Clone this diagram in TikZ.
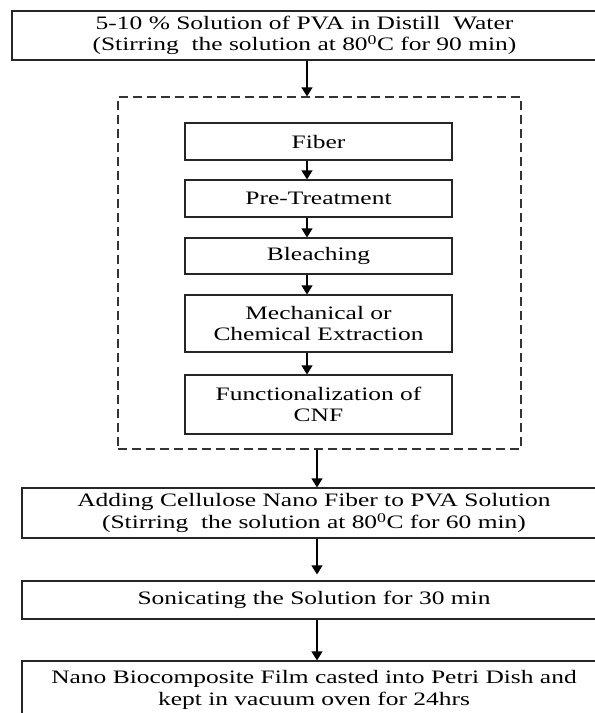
\documentclass[tikz,border=0pt]{standalone}
\usepackage{fontspec}
\setmainfont[FakeStretch=1.34]{Liberation Serif}
\usetikzlibrary{arrows.meta}
\begin{document}
\begin{tikzpicture}[x=1pt,y=-1pt,
  box/.style={draw=black!85,line width=1.2pt,align=center,inner sep=0pt,
    font=\fontsize{19}{21.5}\selectfont,text=black},
  inbox/.style={box,minimum width=267pt},
  wide/.style={box,minimum width=584pt},
  arr/.style={draw=black,line width=1.2pt,-{Triangle[width=11pt,length=9pt]}},
  dbox/.style={draw=black!80,line width=1.2pt,dash pattern=on 9pt off 5pt}]
\useasboundingbox (0,0) rectangle (595,713);
\fill[white] (0,0) rectangle (595,713);
\coordinate (ax) at (307,0);
\coordinate (bx) at (317,0);
% top box
\node[wide,minimum width=585pt,minimum height=49pt] (pva) at (304.5,35.5)
  {5-10 \% Solution of PVA in Distill\ \ Water\\(Stirring\ \ the solution at 80\textsuperscript{0}C for 90 min)};
% dashed group
\node[dbox,minimum width=403pt,minimum height=352pt] (grp) at (319.5,273) {};
% inner boxes
\node[inbox,minimum height=37pt] (fiber) at (318.5,141.5) {Fiber};
\node[inbox,minimum height=37pt] (pre) at (318.5,198.5) {Pre-Treatment};
\node[inbox,minimum height=36pt] (bleach) at (318.5,256) {Bleaching};
\node[inbox,minimum height=57pt] (mech) at (318.5,323.5) {Mechanical or\\Chemical Extraction};
\node[inbox,minimum height=59pt] (func) at (318.5,404.5) {Functionalization of\\CNF};
% lower boxes
\node[wide,minimum height=50pt] (add) at (314,513)
  {Adding Cellulose Nano Fiber to PVA Solution\\(Stirring\ \ the solution at 80\textsuperscript{0}C for 60 min)};
\node[wide,minimum height=38pt] (son) at (314,600) {Sonicating the Solution for 30 min};
\node[wide,minimum height=58pt] (film) at (314,690)
  {Nano Biocomposite Film casted into Petri Dish and\\kept in vacuum oven for 24hrs};
% arrows
\draw[arr] (pva.south -| ax) -- (grp.north -| ax);
\draw[arr] (fiber.south -| ax) -- (pre.north -| ax);
\draw[arr] (pre.south -| ax) -- (bleach.north -| ax);
\draw[arr] (bleach.south -| ax) -- (mech.north -| ax);
\draw[arr] (mech.south -| ax) -- (func.north -| ax);
\draw[arr] (grp.south -| bx) -- (add.north -| bx);
\draw[arr,shorten >=6pt] (add.south -| bx) -- (son.north -| bx);
\draw[arr] (son.south -| bx) -- (film.north -| bx);
\end{tikzpicture}
\end{document}
